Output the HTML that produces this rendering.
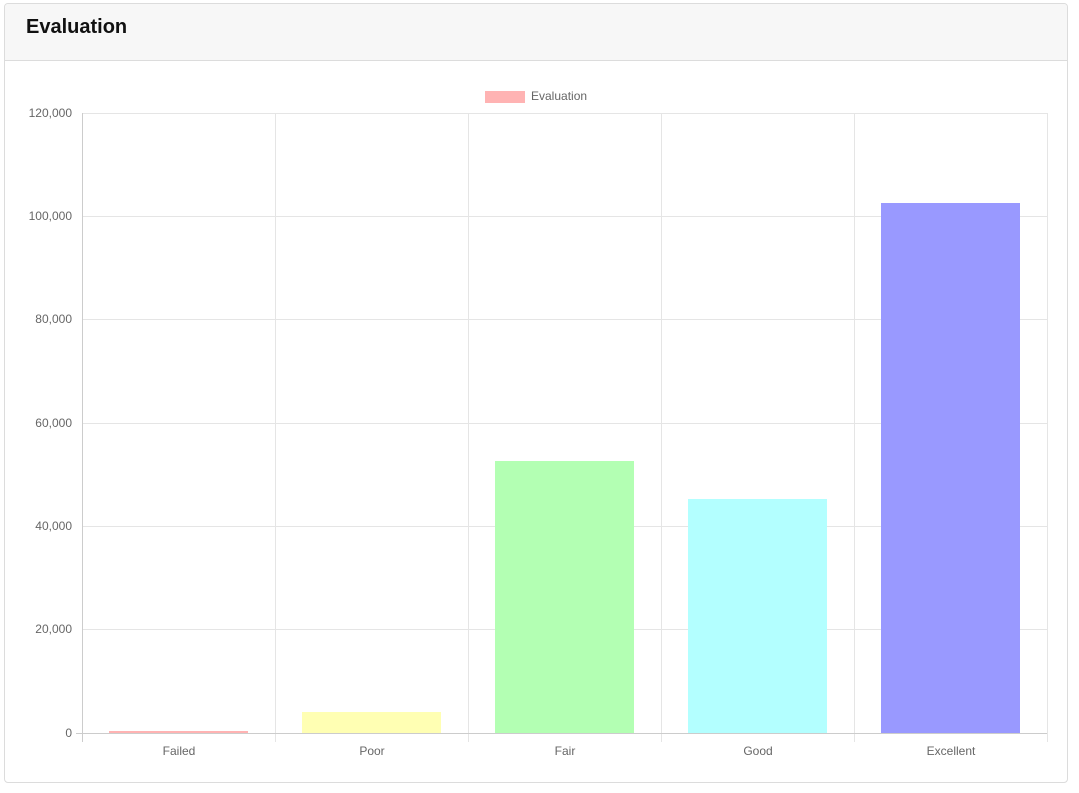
<!DOCTYPE html>
<html><head><meta charset="utf-8"><style>
body{margin:0;background:#fff;width:1079px;height:793px;overflow:hidden;font-family:"Liberation Sans",sans-serif}
.card{position:absolute;left:4px;top:3px;width:1062px;height:778px;border:1px solid #dcdcdc;border-radius:4px;overflow:hidden}
.hdr{height:56px;background:#f7f7f7;border-bottom:1px solid #dcdcdc;}
.hdr span{position:absolute;left:21px;top:12px;font-size:20px;color:#111;font-weight:bold}
svg{position:absolute;left:0;top:0}
</style></head><body>
<div class="card"><div class="hdr"><span>Evaluation</span></div></div>
<svg width="1079" height="793" font-family="Liberation Sans, sans-serif" font-size="12" fill="#666">
<g stroke="#e5e5e5" stroke-width="1">
<line x1="82" y1="113.5" x2="1047" y2="113.5"/>
<line x1="82" y1="216.5" x2="1047" y2="216.5"/>
<line x1="82" y1="319.5" x2="1047" y2="319.5"/>
<line x1="82" y1="423.5" x2="1047" y2="423.5"/>
<line x1="82" y1="526.5" x2="1047" y2="526.5"/>
<line x1="82" y1="629.5" x2="1047" y2="629.5"/>
<line x1="275.5" y1="113" x2="275.5" y2="742"/>
<line x1="468.5" y1="113" x2="468.5" y2="742"/>
<line x1="661.5" y1="113" x2="661.5" y2="742"/>
<line x1="854.5" y1="113" x2="854.5" y2="742"/>
<line x1="1047.5" y1="113" x2="1047.5" y2="742"/>
</g>
<g stroke="#ccc"><line x1="82.5" y1="113" x2="82.5" y2="742"/><line x1="76" y1="733.5" x2="1047" y2="733.5"/></g>
<rect x="109" y="731" width="139" height="2" fill="#ffb3b3"/>
<rect x="302" y="712" width="139" height="21" fill="#ffffb3"/>
<rect x="495" y="461" width="139" height="272" fill="#b3ffb3"/>
<rect x="688" y="499" width="139" height="234" fill="#b3ffff"/>
<rect x="881" y="203" width="139" height="530" fill="#9999ff"/>
<g text-anchor="end">
<text x="72" y="117">120,000</text><text x="72" y="220">100,000</text><text x="72" y="323">80,000</text>
<text x="72" y="427">60,000</text><text x="72" y="530">40,000</text><text x="72" y="633">20,000</text><text x="72" y="737">0</text>
</g>
<g text-anchor="middle">
<text x="179" y="755">Failed</text><text x="372" y="755">Poor</text><text x="565" y="755">Fair</text>
<text x="758" y="755">Good</text><text x="951" y="755">Excellent</text>
</g>
<rect x="485" y="91" width="40" height="12" fill="#ffb3b3"/>
<text x="531" y="100">Evaluation</text>
</svg>
</body></html>
